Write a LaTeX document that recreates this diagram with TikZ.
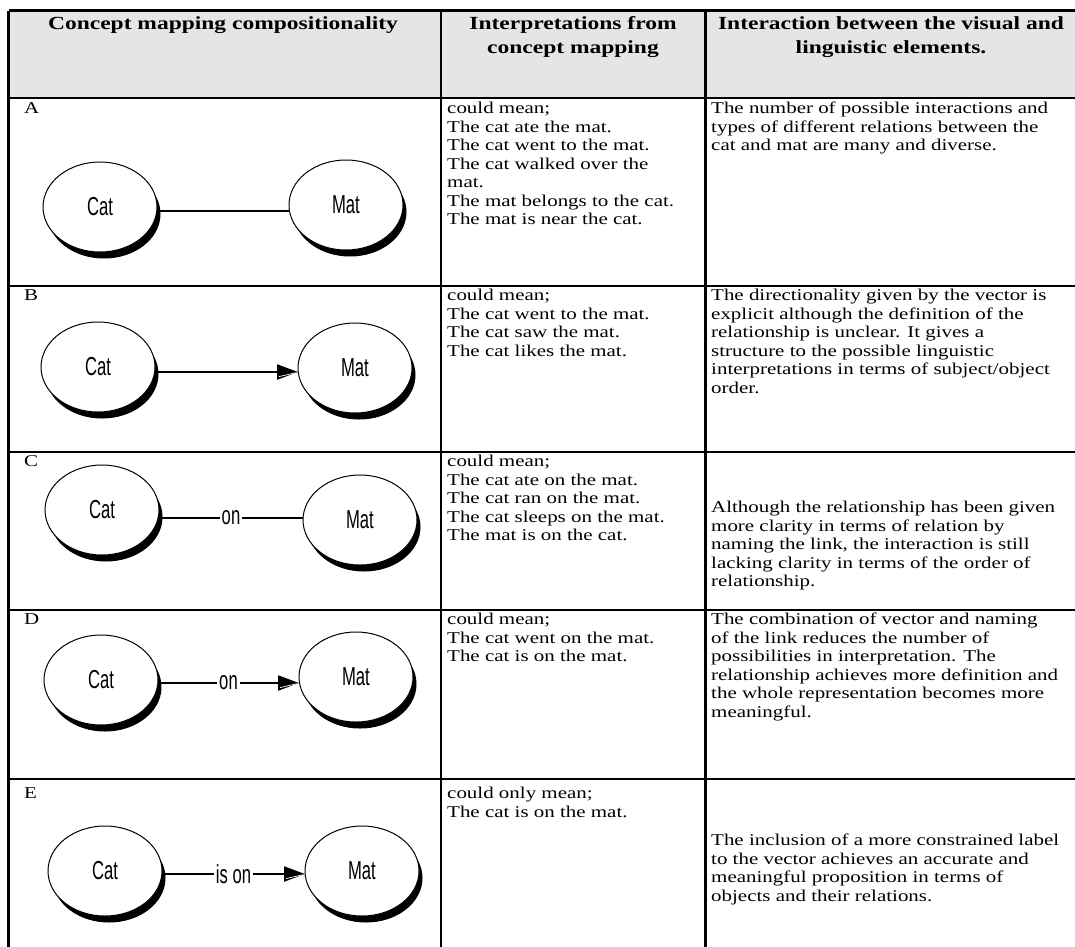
\documentclass[tikz,border=0pt]{standalone}
\usepackage{fontspec}
\setmainfont{Liberation Serif}
\newfontfamily\bodyfont[FakeStretch=1.27]{Liberation Serif}
\newfontfamily\labelfont[FakeStretch=0.64]{Liberation Sans}
\usetikzlibrary{shapes.geometric,arrows.meta,calc}
\begin{document}
\begin{tikzpicture}[x=1pt,y=-1pt,
  grid/.style={line width=2.8pt},
  hdr/.style={font=\bodyfont\bfseries\fontsize{18.5}{24}\selectfont, align=center, anchor=north, inner sep=0pt},
  cell/.style={font=\bodyfont\fontsize{16.5}{18.5}\selectfont, align=left, anchor=north west, inner sep=0pt},
  concept/.style={ellipse, draw, line width=1pt, fill=white, minimum width=114pt, minimum height=90pt, inner sep=0pt, outer sep=0pt,
     font=\labelfont\fontsize{26}{26}\selectfont},
  dropshadow/.style={fill=black, draw=black, line width=1pt},
  link/.style={line width=2.2pt},
  arr/.style={link, -{Triangle[length=21pt, width=15pt]}},
  stripe/.style={white, line width=0.7pt},
  lbl/.style={fill=white, inner xsep=2pt, inner ysep=1pt, font=\labelfont\fontsize{26}{26}\selectfont}]
\useasboundingbox (0,0) rectangle (1075,946);
% header background
\fill[gray!20] (8.5,10.5) rectangle (1077,98);
% grid
\draw[grid] (8.5,10.5) -- (1077,10.5);
\draw[grid] (8.5,98) -- (1077,98);
\draw[grid] (8.5,286) -- (1077,286);
\draw[grid] (8.5,452) -- (1077,452);
\draw[grid] (8.5,610) -- (1077,610);
\draw[grid] (8.5,779) -- (1077,779);
\draw[grid] (8.5,949) -- (1077,949);
\draw[grid] (8.5,10.5) -- (8.5,949);
\draw[grid] (441,10.5) -- (441,949);
\draw[grid] (705.5,10.5) -- (705.5,949);
\draw[grid] (1077,10.5) -- (1077,949);
% header
\node[hdr] (h1) at (223,16) {Concept mapping compositionality};
\node[hdr] (h2) at (573,16) {Interpretations from\\concept mapping};
\node[hdr] (h3) at (891,16) {Interaction between the visual and\\linguistic elements.};
% row letters
\node[cell] (la) at (24,102) {A};
\node[cell] (lb) at (24,289) {B};
\node[cell] (lc) at (24,455) {C};
\node[cell] (ld) at (24,613) {D};
\node[cell] (le) at (24,787) {E};
% column 2
\node[cell] (ia) at (447,102) {could mean;\\The cat ate the mat.\\The cat went to the mat.\\The cat walked over the\\mat.\\The mat belongs to the cat.\\The mat is near the cat.};
\node[cell] (ib) at (447,289) {could mean;\\The cat went to the mat.\\The cat saw the mat.\\The cat likes the mat.};
\node[cell] (ic) at (447,455) {could mean;\\The cat ate on the mat.\\The cat ran on the mat.\\The cat sleeps on the mat.\\The mat is on the cat.};
\node[cell] (id) at (447,613) {could mean;\\The cat went on the mat.\\The cat is on the mat.};
\node[cell] (ie) at (447,787) {could only mean;\\The cat is on the mat.};
% column 3
\node[cell] (ta) at (711,102) {The number of possible interactions and\\types of different relations between the\\cat and mat are many and diverse.};
\node[cell] (tb) at (711,289) {The directionality given by the vector is\\explicit although the definition of the\\relationship is unclear. It gives a\\structure to the possible linguistic\\interpretations in terms of subject/object\\order.};
\node[cell] (tc) at (711,501) {Although the relationship has been given\\more clarity in terms of relation by\\naming the link, the interaction is still\\lacking clarity in terms of the order of\\relationship.};
\node[cell] (td) at (711,613) {The combination of vector and naming\\of the link reduces the number of\\possibilities in interpretation. The\\relationship achieves more definition and\\the whole representation becomes more\\meaningful.};
\node[cell] (te) at (711,834) {The inclusion of a more constrained label\\to the vector achieves an accurate and\\meaningful proposition in terms of\\objects and their relations.};
% drop shadows of the concept ellipses (drawn first, under the ellipses)
\foreach \cx/\cy in {100/207, 346/205, 98/367, 355/368, 102/510, 360/520, 101/680, 356/677, 105/871, 362/871}{
  \filldraw[dropshadow] (\cx+4,\cy+7) ellipse [x radius=56, y radius=44];
}
% concept maps
\node[concept] (catA) at (100,207) {Cat};
\node[concept] (matA) at (346,205) {Mat};
\coordinate (lnA) at (0,211);
\draw[link] (catA.east |- lnA) -- (matA.west |- lnA);

\node[concept] (catB) at (98,367) {Cat};
\node[concept] (matB) at (355,368) {Mat};
\coordinate (lnB) at (0,372);
\draw[arr] (catB.east |- lnB) -- (matB.west |- lnB);
\draw[stripe] ($(matB.west |- lnB)+(-19,4.6)$) -- ($(matB.west |- lnB)+(-2,0.7)$);

\node[concept] (catC) at (102,510) {Cat};
\node[concept] (matC) at (360,520) {Mat};
\coordinate (lnC) at (0,518);
\draw[link] (catC.east |- lnC) -- node[lbl] (onC) {on} (matC.west |- lnC);

\node[concept] (catD) at (101,680) {Cat};
\node[concept] (matD) at (356,677) {Mat};
\coordinate (lnD) at (0,683);
\draw[arr] (catD.east |- lnD) -- node[lbl] (onD) {on} (matD.west |- lnD);
\draw[stripe] ($(matD.west |- lnD)+(-19,4.6)$) -- ($(matD.west |- lnD)+(-2,0.7)$);

\node[concept] (catE) at (105,871) {Cat};
\node[concept] (matE) at (362,871) {Mat};
\coordinate (lnE) at (0,874);
\draw[arr] (catE.east |- lnE) -- node[lbl] (onE) {is on} (matE.west |- lnE);
\draw[stripe] ($(matE.west |- lnE)+(-19,4.6)$) -- ($(matE.west |- lnE)+(-2,0.7)$);
\end{tikzpicture}
\end{document}
